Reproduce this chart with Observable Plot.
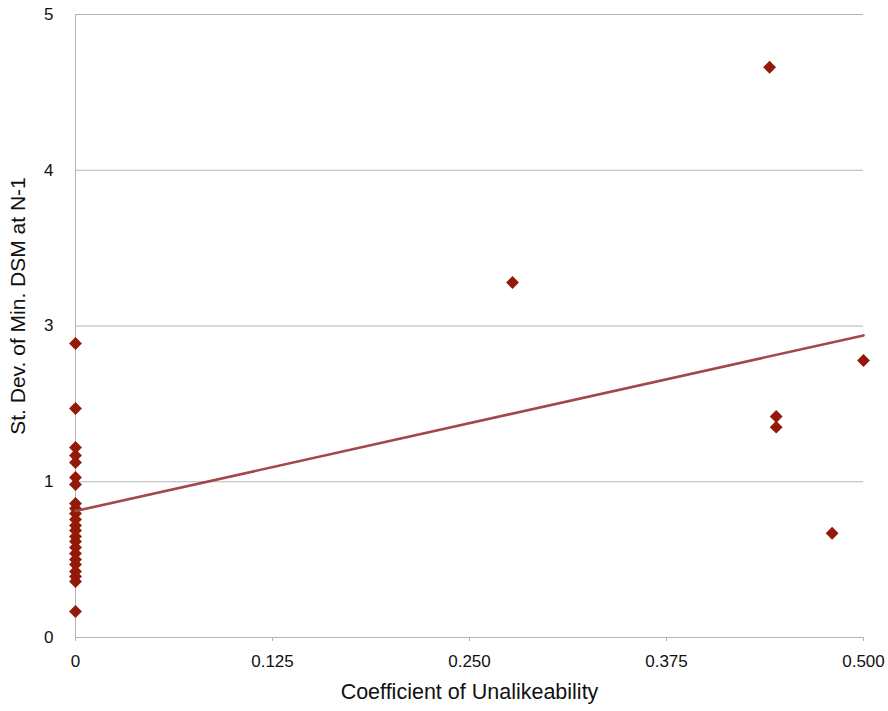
<!DOCTYPE html>
<html>
<head>
<meta charset="utf-8">
<script src="https://cdn.jsdelivr.net/npm/d3@7"></script>
<script src="https://cdn.jsdelivr.net/npm/@observablehq/plot@0.6"></script>
<style>
  html, body { margin: 0; padding: 0; background: #fff; }
</style>
</head>
<body>
<div id="chart"></div>
<script>
// Data
const unalikeability = [
  0, 0, 0, 0, 0, 0, 0, 0, 0, 0, 0, 0, 0, 0, 0, 0, 0, 0, 0, 0, 0, 0, 0,
  0.2773, 0.4404, 0.4446, 0.4446, 0.4801, 0.5
];
const stDevMinDSM = [
  2.360, 1.838, 1.525, 1.461, 1.404, 1.284, 1.228, 1.075, 1.035, 0.995, 0.947, 0.899,
  0.859, 0.811, 0.770, 0.722, 0.674, 0.626, 0.586, 0.530, 0.490, 0.449, 0.209,
  2.849, 4.577, 1.774, 1.688, 0.837, 2.223
];
const xTicks = [0, 0.125, 0.25, 0.375, 0.5];
const xTickLabels = ["0", "0.125", "0.250", "0.375", "0.500"];
const yTicks = [0, 1.25, 2.5, 3.75, 5];
const yTickLabels = ["0", "1", "3", "4", "5"];
const xTitle = "Coefficient of Unalikeability";
const yTitle = "St. Dev. of Min. DSM at N-1";

const points = unalikeability.map((x, i) => ({x, y: stDevMinDSM[i]}));

const gridColor = "#b4b4b4";
const dotColor = "#931a08";
const lineColor = "#a34848";

const chart = Plot.plot({
  width: 888,
  height: 711,
  marginLeft: 75,
  marginRight: 25,
  marginTop: 14,
  marginBottom: 74,
  style: {fontFamily: "'Liberation Sans', Helvetica, Arial, sans-serif", fontSize: "17px", color: "#111", background: "#fff"},
  x: {domain: [0, 0.5]},
  y: {domain: [0, 5]},
  marks: [
    Plot.gridY(yTicks, {stroke: gridColor, strokeOpacity: 1, strokeWidth: 1}),
    Plot.ruleX([0], {stroke: gridColor, strokeWidth: 1}),
    Plot.axisX({
      ticks: xTicks,
      tickFormat: (d) => xTickLabels[xTicks.indexOf(d)],
      tickSize: 4,
      tickPadding: 13,
      stroke: gridColor,
      fill: "#111",
      label: null
    }),
    Plot.axisY({
      ticks: yTicks,
      tickFormat: (d) => yTickLabels[yTicks.indexOf(d)],
      tickSize: 0,
      tickPadding: 22,
      fill: "#111",
      label: null
    }),
    Plot.dot(points, {x: "x", y: "y", symbol: "diamond2", r: 5.8, fill: dotColor, stroke: "none"}),
    Plot.linearRegressionY(points, {x: "x", y: "y", ci: 0, stroke: lineColor, strokeWidth: 2.6}),
    Plot.text([xTitle], {frameAnchor: "bottom", textAnchor: "middle", dy: 61, fontSize: 21.5, fill: "#111"}),
    Plot.text([yTitle], {frameAnchor: "left", textAnchor: "middle", rotate: -90, dx: -57, dy: -20, fontSize: 21, fill: "#111"})
  ]
});
document.getElementById("chart").appendChild(chart);
</script>
</body>
</html>
